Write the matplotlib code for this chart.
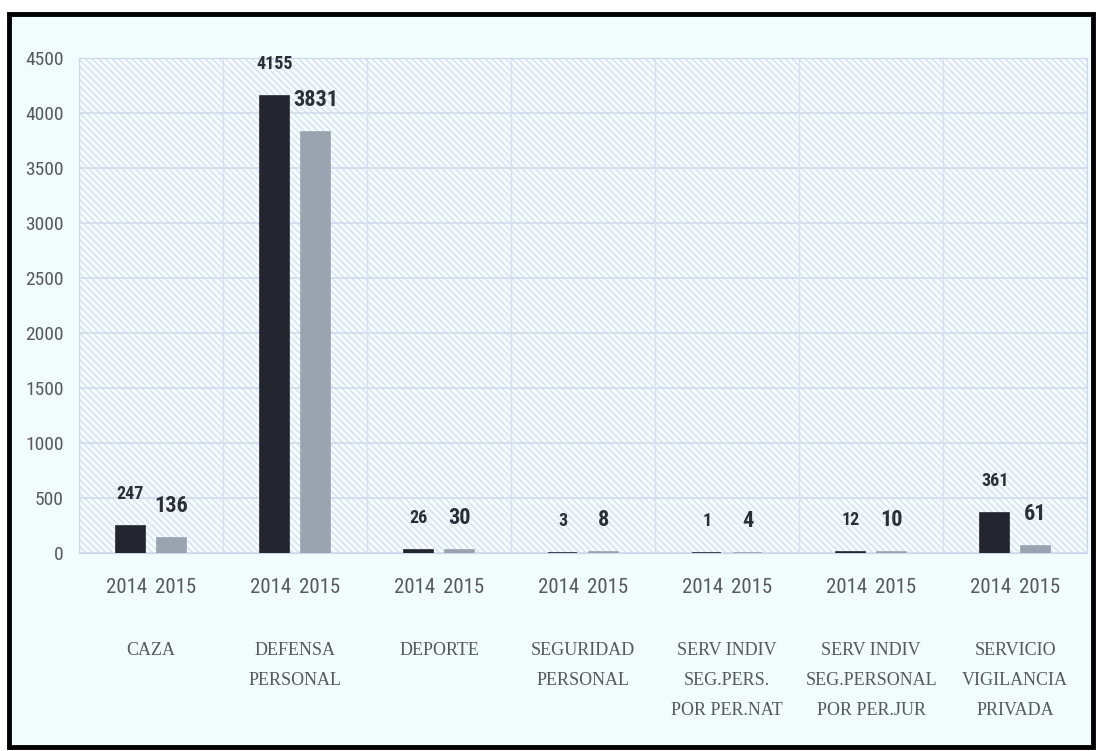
import numpy as np
import matplotlib.pyplot as plt
from matplotlib import font_manager
from matplotlib.patches import Rectangle

categorias = ['CAZA', 'DEFENSA\nPERSONAL', 'DEPORTE', 'SEGURIDAD\nPERSONAL',
              'SERV INDIV\nSEG.PERS.\nPOR PER.NAT', 'SERV INDIV\nSEG.PERSONAL\nPOR PER.JUR',
              'SERVICIO\nVIGILANCIA\nPRIVADA']
anios = ['2014', '2015']
v2014 = [247, 4155, 26, 3, 1, 12, 361]
v2015 = [136, 3831, 30, 8, 4, 10, 61]


def primera(nombres):
    # first family that is really installed
    for n in nombres:
        try:
            font_manager.findfont(n, fallback_to_default=False)
            return n
        except ValueError:
            pass
    return 'DejaVu Sans'


narrow = primera(['Liberation Sans Narrow', 'DejaVu Sans Condensed', 'Roboto Condensed',
                  'Open Sans Condensed', 'Liberation Sans'])
serif = primera(['DejaVu Serif Condensed', 'Liberation Serif'])

plt.rcParams['hatch.color'] = '#d2def2'
plt.rcParams['hatch.linewidth'] = 0.9

fig = plt.figure(figsize=(10.97, 7.51), dpi=100)
fig.patch.set_facecolor('white')

# marco exterior
fig.patches.append(Rectangle((9 / 1097, 1 - 747 / 751), 1084 / 1097, 733 / 751,
                             transform=fig.transFigure, facecolor='#f1fcfd',
                             edgecolor='black', linewidth=3.5, zorder=-5))

ax = fig.add_axes([0.072, 0.2636, 0.919, 0.6592])
ax.set_facecolor('none')
ax.add_patch(Rectangle((0, 0), 1, 1, transform=ax.transAxes, facecolor='#f6fbfe',
                       edgecolor='#d2def2', hatch='\\\\\\\\\\', linewidth=0, zorder=0))

x = np.arange(len(categorias))
w = 0.2
off = 0.142
b1 = ax.bar(x - off, v2014, w, color='#23262e', edgecolor='#23262e', linewidth=1.2, zorder=3)
b2 = ax.bar(x + off, v2015, w, color='#9aa3b0', edgecolor='#9aa3b0', linewidth=1.2, zorder=3)

for bars, vals, fs in [(b1, v2014, 13), (b2, v2015, 16)]:
    for b, v in zip(bars, vals):
        ax.annotate(str(v), (b.get_x() + b.get_width() / 2, v), xytext=(0, 23),
                    textcoords='offset points', ha='center', va='center',
                    fontsize=fs, fontweight='bold', color='#2b2f36', family=narrow)

ax.set_xlim(-0.5, len(categorias) - 0.5)
ax.set_ylim(0, 4500)
ax.set_yticks(np.arange(0, 4501, 500))
# year labels sit a little wider apart than the bars
ax.set_xticks(np.concatenate([x - 0.17, x + 0.17]))
ax.set_xticklabels(anios[:1] * len(x) + anios[1:] * len(x))
ax.tick_params(length=0, labelcolor='#595959')
ax.tick_params(axis='y', pad=11, labelsize=14)
ax.tick_params(axis='x', pad=18, labelsize=15)
for lab in ax.get_xticklabels() + ax.get_yticklabels():
    lab.set_family(narrow)

ax.set_axisbelow(True)
ax.yaxis.grid(True, color='#cfdbef', linewidth=1.2, zorder=1)
for xv in np.arange(-0.5, len(categorias), 1):
    ax.axvline(xv, color='#d6e0f0', linewidth=1, zorder=1)
for s in ax.spines.values():
    s.set_color('#c9d7ee')

for xi, cat in zip(x, categorias):
    ax.text(xi, -0.18, cat, transform=ax.get_xaxis_transform(), ha='center', va='top',
            fontsize=13, color='#555a60', family=serif, linespacing=2.0)

fig.savefig('out.png', dpi=100)
